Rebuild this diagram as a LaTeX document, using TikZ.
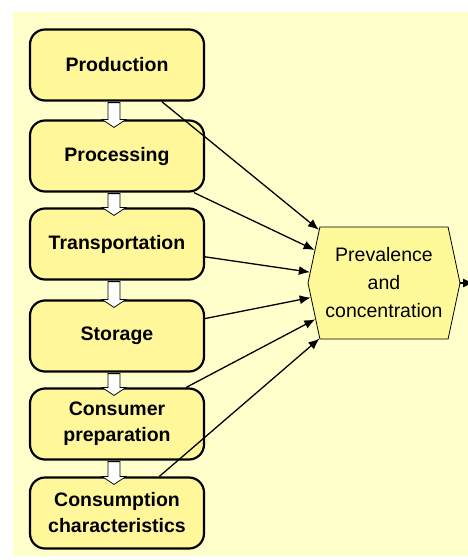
\documentclass[tikz,border=0pt]{standalone}
\usepackage{fontspec}
\setmainfont{Liberation Sans}
\usetikzlibrary{arrows.meta,shapes.symbols,calc}
\definecolor{bgyellow}{HTML}{FFFFCC}
\definecolor{boxyellow}{HTML}{FFF799}
\definecolor{hexyellow}{HTML}{FFFA99}
\tikzset{
  stage/.style={draw, line width=2.2pt, rounded corners=15pt, fill=boxyellow,
    minimum width=174pt, minimum height=71pt, align=center,
    font=\fontsize{19.5}{26}\selectfont\bfseries},
  prevalence/.style={signal, signal to=west and east, signal pointer angle=156,
    draw, line width=0.8pt, fill=hexyellow, minimum width=152pt, minimum height=112pt,
    align=center, font=\fontsize{19.5}{28}\selectfont},
  hollow/.style={draw, fill=white, line width=0.8pt},
  link/.style={->, line width=1.3pt}
}
\begin{document}
\begin{tikzpicture}[x=1pt, y=-1pt, >={Latex[length=11pt,width=9pt]}]
\useasboundingbox (0,0) rectangle (468,560);
\fill[bgyellow] (13,12) rectangle (468,556);

\node[stage] (prod) at (117,65) {Production};
\node[stage] (proc) at (117,156) {Processing};
\node[stage] (trans) at (117,244) {Transportation};
\node[stage] (stor) at (117,336) {Storage};
\node[stage] (prep) at (117,424) {Consumer\\preparation};
\node[stage] (cons) at (117,513) {Consumption\\characteristics};

\node[prevalence] (prev) at (384,283) {Prevalence\\and\\concentration};
\coordinate (out) at (474,283);

\foreach \s in {prod,proc,trans,stor,prep,cons}
  \draw[link] (\s) -- (prev);
\draw[link] (prev.east) -- (out);

% hollow block arrows between the stages
\foreach \a/\b in {prod/proc,proc/trans,trans/stor,stor/prep,prep/cons}
  \draw[hollow] ($(\a.south)+(-9,1)$) -- ($(\b.north)+(-9,0)$) -- ++(-6,0)
    -- ($(\b.north)+(-3,8)$) -- ($(\b.north)+(9,0)$) -- ++(-6,0)
    -- ($(\a.south)+(3,1)$) -- cycle;

\end{tikzpicture}
\end{document}
